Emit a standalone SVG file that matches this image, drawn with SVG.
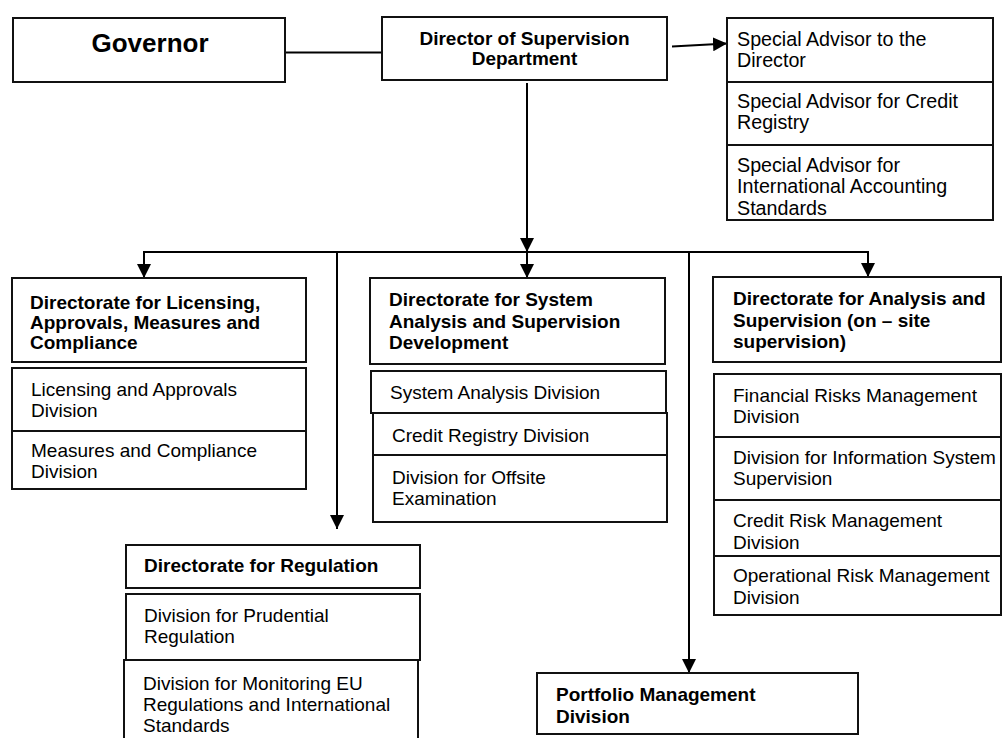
<svg xmlns="http://www.w3.org/2000/svg" width="1002" height="738" viewBox="0 0 1002 738">
<style>
.box{fill:#fff;stroke:#111;stroke-width:2}
.div{stroke:#111;stroke-width:2}
.conn{fill:none;stroke:#000;stroke-width:2}
text{font-family:"Liberation Sans",Arial,sans-serif;font-size:19px;fill:#000}
.b{font-weight:bold}
.adv{font-size:19.7px}
.gov{font-size:26px;font-weight:bold}
</style>
<defs>
<marker id="arr" markerUnits="userSpaceOnUse" markerWidth="14" markerHeight="14" refX="14" refY="7" orient="auto">
<path d="M0,0 L14,7 L0,14 z" fill="#000"/>
</marker>
</defs>
<rect width="1002" height="738" fill="#fff"/>
<g id="connectors">
<line class="conn" x1="282" y1="52.5" x2="382" y2="52.5"/>
<line class="conn" x1="672" y1="46.5" x2="727" y2="43.5" marker-end="url(#arr)"/>
<line class="conn" x1="527" y1="83" x2="527" y2="252" marker-end="url(#arr)"/>
<line class="conn" x1="143" y1="252" x2="869" y2="252"/>
<line class="conn" x1="144" y1="252" x2="144" y2="278" marker-end="url(#arr)"/>
<line class="conn" x1="527" y1="252" x2="527" y2="278" marker-end="url(#arr)"/>
<line class="conn" x1="868" y1="252" x2="868" y2="277" marker-end="url(#arr)"/>
<line class="conn" x1="337" y1="252" x2="337" y2="529" marker-end="url(#arr)"/>
<line class="conn" x1="689" y1="252" x2="689" y2="673" marker-end="url(#arr)"/>
</g>
<g id="governor">
<rect class="box" x="13" y="18" width="272" height="64"/>
<text class="gov" x="150" y="52" text-anchor="middle">Governor</text>
</g>
<g id="director">
<rect class="box" x="382" y="17" width="285" height="63"/>
<text class="b" x="524.5" y="45" text-anchor="middle">Director of Supervision</text>
<text class="b" x="524.5" y="65" text-anchor="middle">Department</text>
</g>
<g id="advisors">
<rect class="box" x="727" y="18" width="266" height="202"/>
<line class="div" x1="727" y1="82" x2="993" y2="82"/>
<line class="div" x1="727" y1="145" x2="993" y2="145"/>
<text class="adv" x="737" y="45.5">Special Advisor to the</text>
<text class="adv" x="737" y="66.5">Director</text>
<text class="adv" x="737" y="108">Special Advisor for Credit</text>
<text class="adv" x="737" y="129">Registry</text>
<text class="adv" x="737" y="171.5">Special Advisor for</text>
<text class="adv" x="737" y="193">International Accounting</text>
<text class="adv" x="737" y="214.5">Standards</text>
</g>
<g id="licensing">
<rect class="box" x="12" y="278" width="294" height="84"/>
<text class="b" x="30" y="308.5">Directorate for Licensing,</text>
<text class="b" x="30" y="329">Approvals, Measures and</text>
<text class="b" x="30" y="349">Compliance</text>
</g>
<g id="licensing-divisions">
<rect class="box" x="12" y="368" width="294" height="121"/>
<line class="div" x1="12" y1="431" x2="306" y2="431"/>
<text x="31" y="396">Licensing and Approvals</text>
<text x="31" y="417">Division</text>
<text x="31" y="457">Measures and Compliance</text>
<text x="31" y="477.5">Division</text>
</g>
<g id="system">
<rect class="box" x="370" y="278" width="295" height="86"/>
<text class="b" x="389" y="306">Directorate for System</text>
<text class="b" x="389" y="327.5">Analysis and Supervision</text>
<text class="b" x="389" y="349">Development</text>
</g>
<g id="system-divisions">
<rect class="box" x="371" y="371" width="295" height="42"/>
<text x="390" y="399">System Analysis Division</text>
<rect class="box" x="373" y="413" width="294" height="42"/>
<text x="392" y="441.5">Credit Registry Division</text>
<rect class="box" x="373" y="455" width="294" height="67"/>
<text x="392" y="483.5">Division for Offsite</text>
<text x="392" y="505">Examination</text>
</g>
<g id="analysis">
<rect class="box" x="713" y="277" width="288" height="85"/>
<text class="b" x="733" y="305">Directorate for Analysis and</text>
<text class="b" x="733" y="326.5">Supervision (on – site</text>
<text class="b" x="733" y="348">supervision)</text>
</g>
<g id="analysis-divisions">
<rect class="box" x="714" y="374" width="287" height="241"/>
<line class="div" x1="714" y1="437" x2="1001" y2="437"/>
<line class="div" x1="714" y1="500" x2="1001" y2="500"/>
<line class="div" x1="714" y1="556" x2="1001" y2="556"/>
<text x="733" y="401.5">Financial Risks Management</text>
<text x="733" y="423">Division</text>
<text x="733" y="463.5">Division for Information System</text>
<text x="733" y="485">Supervision</text>
<text x="733" y="527">Credit Risk Management</text>
<text x="733" y="548.5">Division</text>
<text x="733" y="582">Operational Risk Management</text>
<text x="733" y="604">Division</text>
</g>
<g id="regulation">
<rect class="box" x="126" y="545" width="294" height="43"/>
<text class="b" x="144" y="572">Directorate for Regulation</text>
</g>
<g id="regulation-divisions">
<rect class="box" x="126" y="594" width="294" height="66"/>
<text x="144" y="622">Division for Prudential</text>
<text x="144" y="642.5">Regulation</text>
<rect class="box" x="124" y="660" width="294" height="90"/>
<text x="143" y="689.5">Division for Monitoring EU</text>
<text x="143" y="711">Regulations and International</text>
<text x="143" y="732">Standards</text>
</g>
<g id="portfolio">
<rect class="box" x="537" y="673" width="321" height="61"/>
<text class="b" x="556" y="700.5">Portfolio Management</text>
<text class="b" x="556" y="723">Division</text>
</g>
</svg>
